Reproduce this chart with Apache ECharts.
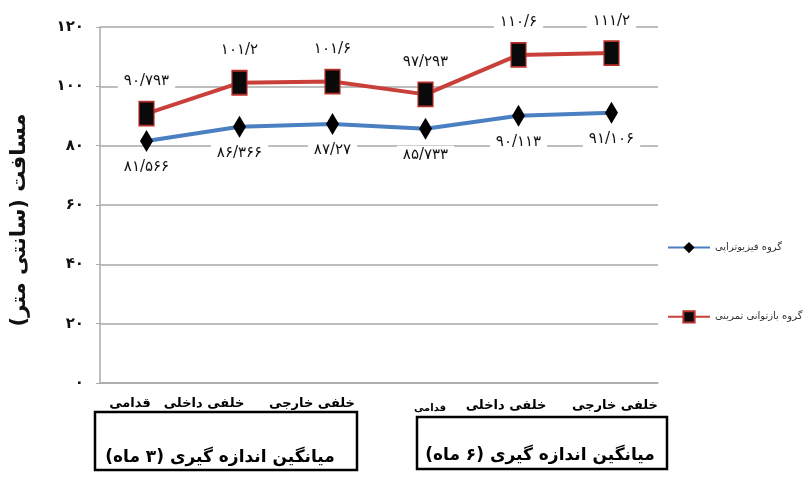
<!DOCTYPE html>
<html>
<head>
<meta charset="utf-8">
<script src="https://cdn.jsdelivr.net/npm/echarts@6/dist/echarts.min.js"></script>
<style>
html,body{margin:0;padding:0;background:#fff;}
#chart{width:812px;height:478px;}
</style>
</head>
<body>
<div id="chart"></div>
<script>
// Measurement positions (two groups of three), series values and axis ticks
const categories = ['قدامی', 'خلفی داخلی', 'خلفی خارجی', 'قدامی', 'خلفی داخلی', 'خلفی خارجی'];
const periodNames = ['میانگین اندازه گیری (۳ ماه)', 'میانگین اندازه گیری (۶ ماه)'];
const seriesNames = ['گروه فیزیوتراپی', 'گروه بازتوانی تمرینی'];
const physioValues = [81.566, 86.366, 87.27, 85.733, 90.113, 91.106];
const exerciseValues = [90.793, 101.2, 101.6, 97.293, 110.6, 111.2];
const yTicks = [0, 20, 40, 60, 80, 100, 120];
const yAxisTitle = 'مسافت (سانتی متر)';

const FONT = '"DejaVu Sans", sans-serif';

// Persian digits with "/" as the decimal separator
function toFa(v) {
  return String(v).replace(/\d/g, d => '۰۱۲۳۴۵۶۷۸۹'[d]).replace('.', '/');
}
// Force right-to-left ordering for Persian strings on the canvas
function rtl(s) {
  return '\u200F' + s + '\u200F';
}

const chart = echarts.init(document.getElementById('chart'), null, { renderer: 'canvas' });

// Category captions sit on the period boxes below the axis
const catX = [130, 204, 312, 430, 506, 615];
const catY = [404, 404, 404, 408, 406, 406];
const catSize = [13, 13, 13, 10, 13, 13];
const graphics = [];
categories.forEach((c, i) => {
  graphics.push({
    type: 'text', x: catX[i], y: catY[i],
    style: { text: rtl(c), font: 'bold ' + catSize[i] + 'px ' + FONT, fill: '#000', align: 'center', verticalAlign: 'middle' }
  });
});
// Period boxes
graphics.push({ type: 'rect', shape: { x: 95, y: 412, width: 262, height: 58 }, style: { fill: null, stroke: '#000', lineWidth: 2.5 } });
graphics.push({ type: 'rect', shape: { x: 417, y: 417, width: 250, height: 52 }, style: { fill: null, stroke: '#000', lineWidth: 2.5 } });
graphics.push({ type: 'text', x: 220, y: 458, style: { text: rtl(periodNames[0]), font: 'bold 17px ' + FONT, fill: '#000', align: 'center', verticalAlign: 'middle' } });
graphics.push({ type: 'text', x: 540, y: 456, style: { text: rtl(periodNames[1]), font: 'bold 17px ' + FONT, fill: '#000', align: 'center', verticalAlign: 'middle' } });

const option = {
  animation: false,
  backgroundColor: '#fff',
  textStyle: { fontFamily: FONT },
  grid: { left: 100, right: 154, top: 27, bottom: 95 },
  legend: {
    orient: 'vertical',
    left: 662, top: 237,
    itemWidth: 42, itemHeight: 14, itemGap: 57,
    data: [seriesNames[0], seriesNames[1]],
    textStyle: { fontSize: 10, color: '#333', fontFamily: FONT }
  },
  xAxis: {
    type: 'category',
    data: categories,
    boundaryGap: true,
    axisLine: { lineStyle: { color: '#aaa', width: 1.5 } },
    axisTick: { show: false },
    axisLabel: { show: false }
  },
  yAxis: {
    type: 'value',
    min: yTicks[0], max: yTicks[yTicks.length - 1], interval: yTicks[1] - yTicks[0],
    name: rtl(yAxisTitle),
    nameLocation: 'middle',
    nameGap: 70,
    nameTextStyle: { fontSize: 21, fontWeight: 'bold', color: '#111', fontFamily: FONT, padding: [0, 30, 0, 0] },
    axisLine: { show: true, lineStyle: { color: '#aaa', width: 1.5 } },
    axisTick: { show: true, length: 4, lineStyle: { color: '#aaa' } },
    axisLabel: { margin: 16, fontSize: 15, fontWeight: 'bold', color: '#111', fontFamily: FONT, formatter: v => toFa(v) },
    splitLine: { lineStyle: { color: '#bdbdbd', width: 2 } }
  },
  series: [
    {
      name: seriesNames[0],
      type: 'line',
      data: physioValues,
      symbol: 'diamond',
      symbolSize: [13, 22],
      lineStyle: { color: '#4a7fc1', width: 4 },
      itemStyle: { color: '#000' },
      label: {
        show: true, position: 'bottom', distance: 6,
        formatter: p => toFa(p.value),
        fontSize: 15, color: '#111', fontFamily: FONT,
        backgroundColor: '#fff', padding: [2, 6]
      },
      z: 3
    },
    {
      name: seriesNames[1],
      type: 'line',
      data: exerciseValues,
      symbol: 'rect',
      symbolSize: [15, 24],
      lineStyle: { color: '#c9403a', width: 4 },
      itemStyle: { color: '#0a0a0a', borderColor: '#b8302a', borderWidth: 1.5 },
      label: {
        show: true, position: 'top', distance: 10,
        formatter: p => toFa(p.value),
        fontSize: 15, color: '#111', fontFamily: FONT,
        backgroundColor: '#fff', padding: [2, 6]
      },
      z: 4
    }
  ],
  graphic: graphics
};
chart.setOption(option);
</script>
</body>
</html>
